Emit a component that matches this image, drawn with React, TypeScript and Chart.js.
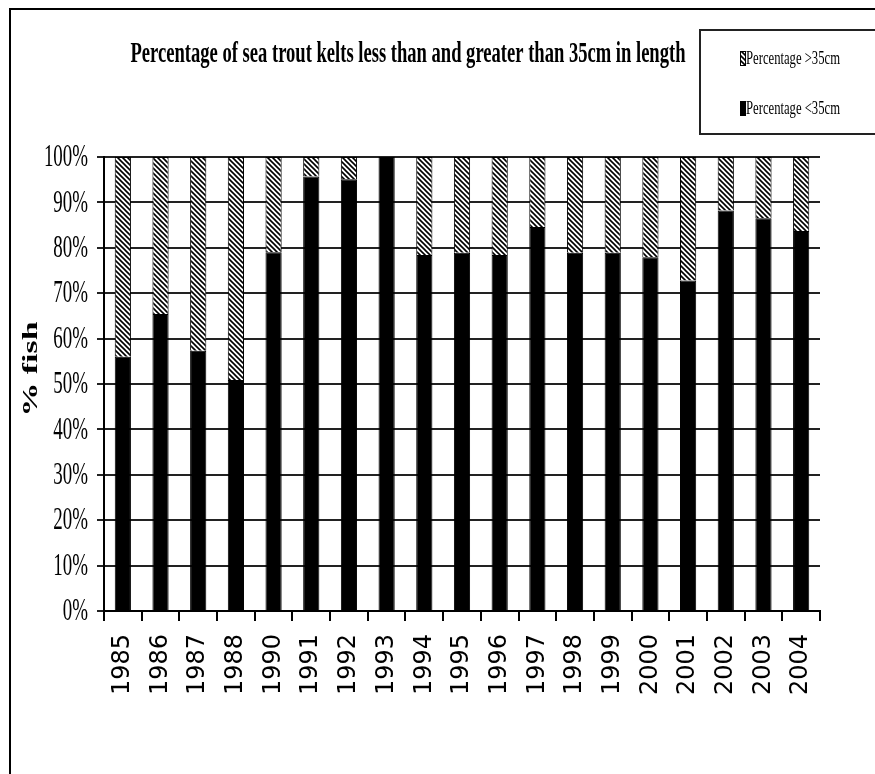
import { useEffect, useRef } from 'react';
import { Chart, registerables } from 'chart.js';

Chart.register(...registerables);

// Survey years (1989 missing from the series)
const YEARS = [
  '1985', '1986', '1987', '1988', '1990', '1991', '1992', '1993', '1994', '1995',
  '1996', '1997', '1998', '1999', '2000', '2001', '2002', '2003', '2004',
];

// Share of kelts under 35cm (%)
const UNDER_35 = [
  56, 65.4, 57.3, 50.9, 79, 95.7, 95.1, 100, 78.4, 78.9,
  78.4, 84.6, 78.9, 78.9, 77.9, 72.8, 88.2, 86.5, 83.7,
];

// Share of kelts over 35cm (%)
const OVER_35 = [
  44, 34.6, 42.7, 49.1, 21, 4.3, 4.9, 0, 21.6, 21.1,
  21.6, 15.4, 21.1, 21.1, 22.1, 27.2, 11.8, 13.5, 16.3,
];

const Y_MIN = 0;
const Y_MAX = 100;
const Y_STEP = 10;

const TITLE = 'Percentage of sea trout kelts less than and greater than 35cm in length';
const Y_TITLE = '% fish';
const LABEL_UNDER = 'Percentage <35cm';
const LABEL_OVER = 'Percentage >35cm';

const W = 875;
const H = 774;
const SERIF = '"Liberation Serif", "Times New Roman", serif';

type TextOpts = {
  width?: number;
  scaleX?: number;
  align: CanvasTextAlign;
  baseline: CanvasTextBaseline;
  rotate?: number;
};

// Draws text squeezed (or stretched) along its own direction.
function drawSqueezed(
  ctx: CanvasRenderingContext2D,
  text: string,
  x: number,
  y: number,
  font: string,
  opts: TextOpts,
) {
  ctx.save();
  ctx.font = font;
  const measured = ctx.measureText(text).width;
  const sx = opts.width ? opts.width / measured : opts.scaleX ?? 1;
  ctx.translate(x, y);
  if (opts.rotate) ctx.rotate(opts.rotate);
  ctx.scale(sx, 1);
  ctx.textAlign = opts.align;
  ctx.textBaseline = opts.baseline;
  ctx.fillStyle = '#000';
  ctx.fillText(text, 0, 0);
  ctx.restore();
}

// Diagonal "\\" hatching, black on white
function makeHatch(): CanvasPattern | string {
  const tile = document.createElement('canvas');
  const s = 5;
  tile.width = s;
  tile.height = s;
  const t = tile.getContext('2d');
  if (!t) return '#888';
  t.fillStyle = '#fff';
  t.fillRect(0, 0, s, s);
  t.strokeStyle = '#000';
  t.lineWidth = 1.6;
  t.beginPath();
  t.moveTo(-1, -1);
  t.lineTo(s + 1, s + 1);
  t.moveTo(-1, s - 1);
  t.lineTo(1, s + 1);
  t.moveTo(s - 1, -1);
  t.lineTo(s + 1, 1);
  t.stroke();
  const ctx = document.createElement('canvas').getContext('2d');
  return ctx?.createPattern(tile, 'repeat') ?? '#888';
}

const decorations = {
  id: 'decorations',
  beforeDraw(chart: Chart) {
    const ctx = chart.ctx;
    ctx.save();
    ctx.fillStyle = '#fff';
    ctx.fillRect(0, 0, chart.width, chart.height);
    // page frame (top and left edges)
    ctx.fillStyle = '#000';
    ctx.fillRect(9, 8, chart.width - 9, 2);
    ctx.fillRect(9, 8, 2, chart.height - 8);
    ctx.restore();
  },
  afterDraw(chart: Chart) {
    const ctx = chart.ctx;
    const yScale = chart.scales.y;

    // title
    drawSqueezed(ctx, TITLE, 408, 62, `bold 30px ${SERIF}`, {
      width: 555,
      align: 'center',
      baseline: 'alphabetic',
    });

    // y tick labels
    yScale.ticks.forEach((tick) => {
      const py = yScale.getPixelForValue(tick.value);
      drawSqueezed(ctx, `${tick.value}%`, 88, py + 1, `31px ${SERIF}`, {
        scaleX: 0.61,
        align: 'right',
        baseline: 'middle',
      });
    });

    // y axis title
    drawSqueezed(ctx, Y_TITLE, 37, 369, `bold 22px ${SERIF}`, {
      width: 95,
      align: 'center',
      baseline: 'alphabetic',
      rotate: -Math.PI / 2,
    });

    // legend box
    ctx.save();
    ctx.strokeStyle = '#222';
    ctx.lineWidth = 2;
    ctx.strokeRect(700, 30, 200, 104);
    ctx.restore();

    const items = [chart.data.datasets[1], chart.data.datasets[0]];
    const rows = [58, 108];
    items.forEach((ds, i) => {
      const cy = rows[i];
      ctx.save();
      ctx.fillStyle = ds.backgroundColor as any;
      ctx.fillRect(740, cy - 7, 6, 15);
      ctx.strokeStyle = '#000';
      ctx.lineWidth = 1;
      ctx.strokeRect(740.5, cy - 6.5, 5, 14);
      ctx.restore();
      drawSqueezed(ctx, String(ds.label), 746, cy + 6, `19px ${SERIF}`, {
        width: 94,
        align: 'left',
        baseline: 'alphabetic',
      });
    });
  },
};

export default function App() {
  const canvasRef = useRef<HTMLCanvasElement | null>(null);

  useEffect(() => {
    const canvas = canvasRef.current;
    if (!canvas) return;
    const hatch = makeHatch();

    const chart = new Chart(canvas, {
      type: 'bar',
      data: {
        labels: YEARS,
        datasets: [
          {
            label: LABEL_UNDER,
            data: UNDER_35,
            backgroundColor: '#000',
            borderColor: '#000',
            borderWidth: 1,
            barPercentage: 0.43,
            categoryPercentage: 1,
          },
          {
            label: LABEL_OVER,
            data: OVER_35,
            backgroundColor: hatch as any,
            borderColor: '#000',
            borderWidth: 1,
            barPercentage: 0.43,
            categoryPercentage: 1,
          },
        ],
      },
      options: {
        responsive: false,
        animation: false,
        devicePixelRatio: 1,
        layout: { padding: { left: 44, right: 55, top: 157, bottom: 63 } },
        plugins: {
          legend: { display: false },
          title: { display: false },
          tooltip: { enabled: false },
        },
        scales: {
          x: {
            stacked: true,
            offset: true,
            grid: {
              display: true,
              offset: true,
              drawOnChartArea: false,
              drawTicks: true,
              tickLength: 10,
              color: '#000',
              lineWidth: 2,
            },
            border: { display: true, color: '#000', width: 2 },
            ticks: {
              autoSkip: false,
              minRotation: 90,
              maxRotation: 90,
              padding: 13,
              color: '#000',
              font: { family: '"DejaVu Sans", Verdana, sans-serif', size: 24 },
            },
            afterFit: (s: any) => {
              s.height = 100;
            },
          },
          y: {
            stacked: true,
            min: Y_MIN,
            max: Y_MAX,
            ticks: { stepSize: Y_STEP, display: false },
            grid: { color: '#222', lineWidth: 2, drawTicks: true, tickLength: 7 },
            border: { display: true, color: '#000', width: 2 },
            afterFit: (s: any) => {
              s.width = 60;
            },
          },
        },
      },
      plugins: [decorations],
    });

    return () => chart.destroy();
  }, []);

  return (
    <div style={{ position: 'fixed', left: 0, top: 0, width: W, height: H, background: '#fff' }}>
      <canvas ref={canvasRef} width={W} height={H} style={{ display: 'block' }} />
    </div>
  );
}
